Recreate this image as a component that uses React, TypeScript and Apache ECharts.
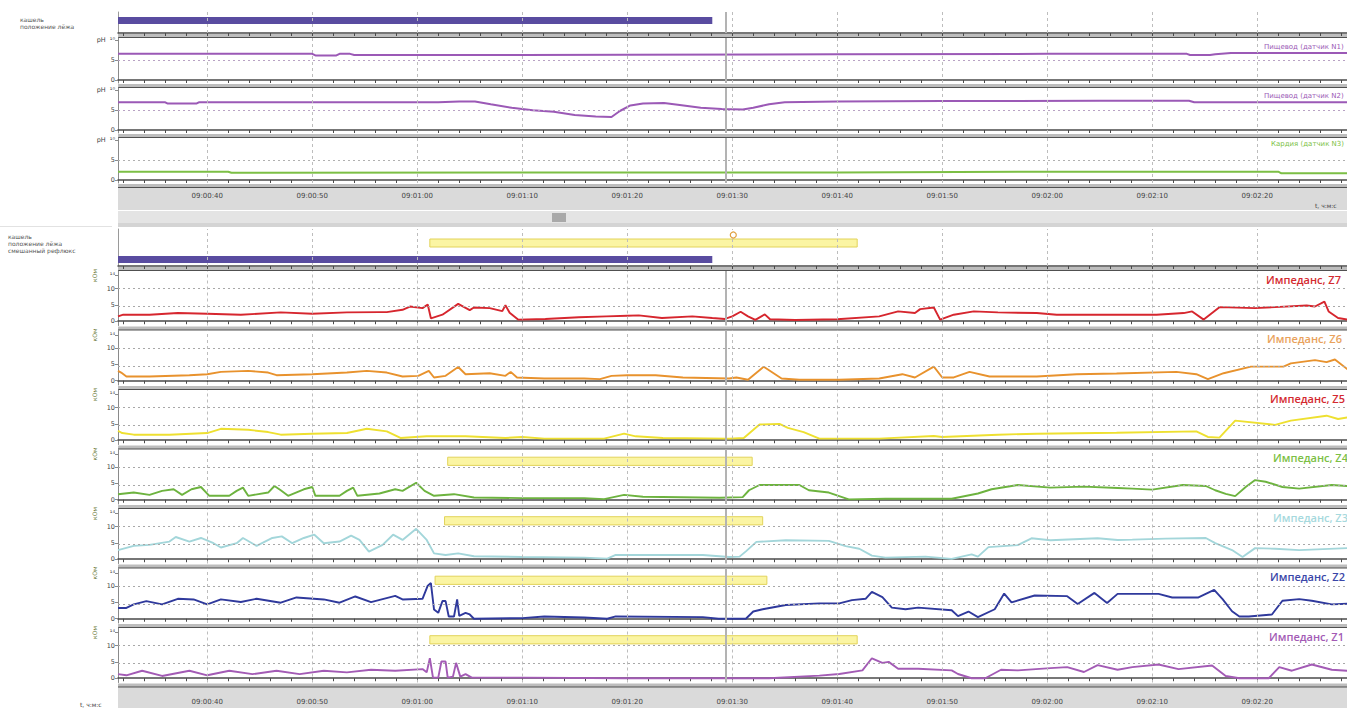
import React, { useEffect, useRef } from 'react';
import * as echarts from 'echarts';

// ---------- axes / ticks ----------
const T_MIN = 31.5;
const T_MAX = 148.55;
const CURSOR_T = 89.4;
const timeTickValues = [40, 50, 60, 70, 80, 90, 100, 110, 120, 130, 140];
const timeTickLabels = ['09:00:40', '09:00:50', '09:01:00', '09:01:10', '09:01:20', '09:01:30', '09:01:40', '09:01:50', '09:02:00', '09:02:10', '09:02:20'];
const minorTickValues: number[] = [];
for (let t = 32; t <= 148; t += 2) minorTickValues.push(t);
const zTickValues = [0, 5, 10, 14];
const phTickValues = [0, 5, 10];
const zDotted = [4.5, 10];
const phDotted = [5];

// ---------- pH series [seconds after 09:00:00, pH] ----------
const phEsoph1 = [[31.5, 6.6], [50, 6.6], [50.3, 6.2], [52.3, 6.2], [52.6, 6.6], [53.6, 6.6], [54, 6.3], [70, 6.3], [80, 6.4], [100, 6.5], [120, 6.6], [133.3, 6.6], [133.6, 6.3], [135.5, 6.3], [136, 6.5], [137.5, 6.8], [148.6, 6.8]];
const phEsoph2 = [[31.5, 7.0], [36, 7.0], [36.2, 6.7], [39, 6.7], [39.2, 7.0], [62, 7.0], [64, 7.2], [65.5, 7.2], [67, 6.5], [69, 5.6], [71, 5.0], [73, 4.6], [75, 3.8], [77, 3.4], [78.5, 3.3], [79.3, 4.8], [80.3, 6.2], [81.5, 6.7], [83.5, 6.8], [85, 6.3], [87, 5.6], [89, 5.3], [91, 5.2], [92, 5.6], [93.5, 6.5], [95, 7.0], [100, 7.2], [110, 7.3], [125, 7.4], [133.5, 7.4], [134, 7.0], [148.6, 7.0]];
const phCardia = [[31.5, 2.1], [42, 2.1], [42.3, 1.85], [100, 1.9], [120, 2.1], [142, 2.1], [142.3, 1.7], [148.6, 1.7]];

// ---------- impedance series [seconds, kOhm] ----------
const z7 = [[31.5, 1.5], [32, 2.0], [34.5, 2.0], [37.2, 2.5], [40, 2.3], [43.2, 2.0], [47, 2.7], [50, 2.3], [53.3, 2.7], [56.4, 2.8], [57.1, 2.8], [58.6, 3.5], [59.3, 4.5], [60.5, 4.0], [61, 5.1], [61.3, 0.9], [62.4, 2.0], [63.9, 5.3], [65, 3.4], [65.4, 4.2], [66.9, 4.0], [68.1, 3.1], [68.4, 4.9], [68.8, 2.6], [69.6, 0.5], [72.2, 0.7], [75.4, 1.2], [78, 1.5], [80, 1.7], [81.1, 1.8], [83.3, 1.0], [86.2, 1.5], [88.1, 1.0], [89.3, 0.7], [90, 1.5], [90.8, 2.9], [91.5, 1.5], [92.2, 0.4], [93.1, 2.1], [93.6, 0.6], [96, 0.4], [100, 0.6], [104, 1.5], [105.8, 3.0], [107.4, 2.5], [107.9, 3.7], [109.2, 4.2], [109.8, 0.5], [111.1, 2.0], [113, 3.0], [115.3, 2.7], [119, 2.5], [120.9, 2.0], [126.6, 2.0], [130.4, 2.0], [133, 2.5], [133.8, 3.0], [134.9, 0.5], [136.4, 4.3], [139.8, 4.0], [141.7, 4.3], [144.7, 4.8], [145.5, 4.5], [146.4, 6.0], [146.8, 3.0], [147.7, 1.0], [148.6, 0.5]];
const z6 = [[31.5, 3.0], [31.8, 2.5], [32.3, 1.3], [34.5, 1.3], [38.3, 1.7], [40, 2.0], [41.3, 2.7], [43.9, 3.0], [45.8, 2.5], [46.6, 1.7], [50, 2.0], [53.3, 2.5], [55.2, 3.0], [57.1, 2.5], [58.6, 1.3], [60.1, 1.5], [61.1, 3.0], [61.6, 1.0], [62.7, 1.5], [63.9, 4.2], [64.6, 2.0], [66.9, 2.3], [68.4, 1.5], [68.9, 2.7], [69.5, 1.0], [72.1, 0.7], [75.9, 0.7], [77.4, 0.5], [78.5, 1.5], [80, 1.7], [82.7, 1.7], [85.3, 1.0], [89.7, 0.7], [90.4, 1.0], [91.5, 0.3], [93, 4.3], [94.7, 0.7], [96.4, 0.3], [100.2, 0.3], [104, 0.7], [106.2, 2.0], [107.4, 1.0], [109.2, 4.3], [110, 1.0], [111.1, 1.0], [112.6, 2.7], [114.5, 1.3], [119, 1.3], [122.8, 2.0], [126.6, 2.2], [132.3, 2.7], [134.2, 2.0], [135.3, 0.5], [136.8, 2.3], [139.4, 4.3], [142.5, 4.3], [143.2, 5.3], [145.5, 6.3], [146.6, 5.7], [147.4, 6.5], [148.6, 3.5]];
const z5 = [[31.5, 2.9], [31.9, 2.2], [33, 1.7], [36.4, 1.7], [40, 2.2], [41.3, 3.5], [43.9, 3.2], [45.8, 2.5], [47, 1.7], [50, 2.0], [53.3, 2.2], [55.2, 3.5], [57.1, 2.7], [58.4, 0.7], [60.9, 1.2], [64.6, 1.2], [68.4, 0.7], [70, 1.0], [72.1, 0.5], [77.8, 0.5], [79.7, 2.0], [80.8, 1.2], [83.4, 0.7], [89.7, 0.5], [91.1, 0.7], [92.6, 4.8], [94.5, 5.0], [95.3, 3.8], [96.8, 2.5], [98.3, 0.5], [104, 0.5], [109.2, 1.3], [110, 1.0], [115.3, 1.7], [119, 2.0], [126.6, 2.3], [134.2, 2.7], [135.3, 1.0], [136.4, 0.8], [137.9, 6.0], [141.7, 4.7], [143.2, 6.0], [146.6, 7.5], [147.7, 6.5], [148.6, 7.0]];
const z4 = [[31.5, 1.7], [33, 2.2], [34.5, 1.5], [35.7, 2.7], [36.8, 3.2], [37.6, 1.5], [38.5, 3.2], [39.4, 3.9], [40.2, 1.2], [42.1, 1.2], [42.8, 2.7], [43.4, 3.7], [43.9, 1.2], [45.8, 2.2], [46.4, 4.2], [47, 2.9], [47.7, 1.2], [49.2, 3.2], [50, 3.9], [50.3, 1.2], [52.6, 1.2], [53.3, 2.7], [53.9, 3.7], [54.3, 1.2], [56.4, 1.9], [57.9, 3.2], [58.6, 2.7], [59.9, 5.2], [60.7, 2.7], [61.6, 1.2], [63.5, 1.7], [65.4, 0.7], [70, 0.5], [75.9, 0.5], [77.8, 0.2], [79.7, 1.5], [81.5, 0.9], [88.8, 0.6], [91, 0.8], [91.6, 2.9], [92.6, 4.5], [96.4, 4.5], [97.3, 2.9], [99.2, 2.2], [101.1, 0.1], [104.6, 0.3], [110.9, 0.3], [113.4, 1.9], [114.7, 3.2], [117.2, 4.5], [120.3, 3.7], [123.5, 4.0], [126.7, 3.6], [128.1, 3.4], [130, 3.1], [132.9, 4.5], [135.1, 4.2], [136, 2.9], [137, 1.8], [137.9, 1.1], [138.9, 3.9], [139.8, 6.0], [140.8, 5.5], [142.4, 3.9], [144, 3.4], [147.1, 4.5], [148.6, 4.2]];
const z3 = [[31.5, 2.8], [33, 4.1], [34.5, 4.4], [36.4, 5.4], [37, 6.8], [38.3, 5.4], [39.4, 6.5], [40.6, 4.9], [41.3, 3.6], [42.8, 4.9], [43.4, 6.5], [44.7, 4.1], [46.2, 6.5], [47.1, 7.0], [48.1, 4.9], [49.2, 6.5], [50.2, 7.5], [51.1, 4.9], [52.6, 5.4], [53.7, 7.2], [54.5, 5.9], [55.4, 2.3], [56.7, 4.4], [57.7, 7.5], [58.6, 5.9], [59.9, 9.3], [60.9, 5.9], [61.6, 1.8], [62.7, 1.3], [63.9, 1.8], [65.4, 0.9], [70, 0.7], [75.9, 0.5], [78.1, 0.2], [78.9, 1.3], [83.4, 1.3], [87.2, 1.3], [89.7, 0.7], [90.7, 0.8], [91.3, 2.4], [92.3, 5.3], [95.1, 5.8], [99.2, 5.6], [100.8, 4.0], [102.1, 3.2], [103.3, 1.1], [104.6, 0.5], [108.4, 0.8], [110.9, 0.1], [112.8, 1.5], [113.4, 0.8], [114.4, 3.7], [117.2, 4.3], [118.5, 6.4], [120.3, 5.8], [124.8, 6.4], [126.7, 5.9], [128.1, 6.0], [131.3, 6.3], [135.1, 6.5], [136, 4.9], [137.6, 2.8], [138.6, 0.7], [139.8, 3.4], [141.7, 3.2], [144, 2.8], [148.6, 3.4]];
const z2 = [[31.5, 3.3], [32.3, 3.3], [33, 4.4], [34.2, 5.4], [35.7, 4.4], [37.2, 6.1], [38.7, 5.9], [40, 4.4], [41.3, 5.9], [43.2, 5.1], [44.7, 6.1], [47, 4.9], [48.5, 6.5], [51.1, 5.9], [52.6, 4.9], [54.1, 6.8], [55.6, 5.1], [57.9, 7.0], [58.6, 5.9], [60.5, 6.1], [61, 10.1], [61.3, 10.9], [61.6, 2.8], [62, 1.8], [62.4, 5.4], [62.7, 5.4], [63, 0.7], [63.5, 0.7], [63.8, 5.9], [64, 0.9], [64.6, 1.8], [65, 1.3], [65.4, 0], [70, 0.2], [72.1, 0.7], [75.9, 0.4], [78.1, 0], [78.9, 0.7], [87.2, 0.5], [88.7, 0], [91.3, 0], [92, 2.2], [92.9, 2.9], [95.1, 4.2], [98.3, 4.7], [100.2, 4.7], [101.4, 5.7], [102.7, 6.1], [103.3, 8.2], [104.3, 6.6], [105.2, 3.4], [106.5, 2.9], [107.7, 3.4], [110.9, 2.6], [111.5, 0.8], [112.5, 2.2], [113.4, 0.5], [115, 2.9], [115.9, 7.7], [116.6, 5.0], [118.8, 7.1], [121.9, 6.9], [122.9, 4.5], [124.5, 7.9], [125.7, 4.8], [126.7, 7.6], [130.6, 7.6], [131.9, 6.5], [134.4, 6.5], [135.9, 8.8], [136.7, 6.0], [137.6, 2.3], [138.3, 0.7], [139.2, 0.7], [141.4, 1.3], [142.4, 5.5], [144, 6.0], [145.2, 5.5], [147.1, 4.4], [148.6, 4.6]];
const z1 = [[31.5, 1.25], [32.3, 0.9], [33.8, 2.3], [35.7, 0.7], [38.3, 2.3], [40, 0.9], [42.1, 2.3], [44.3, 1.25], [46.6, 2.3], [48.8, 1.25], [51.1, 2.3], [53.3, 1.8], [55.6, 2.6], [57.9, 2.3], [60.5, 2.8], [60.9, 1.8], [61.2, 6.1], [61.5, 0.2], [62, 0.2], [62.3, 5.1], [62.7, 5.1], [62.9, 0.2], [63.4, 0.5], [63.7, 4.7], [64.1, 0.5], [64.6, 1.25], [65.2, 0.2], [70, 0.2], [79.7, 0], [89.7, 0], [93.5, 0], [98.3, 0.8], [100.2, 1.3], [102.4, 2.4], [103.3, 6.1], [104.3, 4.7], [104.9, 5.0], [105.8, 2.9], [107.7, 2.9], [110.9, 2.4], [111.5, 1.3], [112.8, 0], [114.1, 0], [115.6, 2.6], [117.2, 2.4], [120.3, 3.1], [121.9, 3.4], [123.5, 1.9], [124.8, 4.0], [126.7, 2.6], [128.1, 3.4], [130.6, 4.2], [132.5, 2.8], [135.7, 3.9], [137, 0.7], [138.3, 0], [141.1, 0], [142.1, 3.4], [143.3, 2.3], [145.2, 4.2], [147.1, 2.6], [148.6, 2.3]];

// ---------- events [start s, end s] ----------
const lyingPosition = [31.5, 88.1];
const mixedReflux = [61.2, 101.9];
const refluxZ4 = [62.9, 91.9];
const refluxZ3 = [62.6, 92.9];
const refluxZ2 = [61.7, 93.3];
const refluxZ1 = [61.2, 101.9];
const coughMarks = [90.1];

const zNames = ['Импеданс, Z7', 'Импеданс, Z6', 'Импеданс, Z5', 'Импеданс, Z4', 'Импеданс, Z3', 'Импеданс, Z2', 'Импеданс, Z1'];
const phNames = ['Пищевод (датчик N1)', 'Пищевод (датчик N2)', 'Кардия (датчик N3)'];

export default function App() {
  const ref = useRef<HTMLDivElement>(null);
  useEffect(() => {
    if (!ref.current) return;
    const chart = echarts.init(ref.current, undefined, { renderer: 'svg' });
    const LEFT = 118;
    const WIDTH = 1229;
    const FONT = 'DejaVu Sans';

    const boxes: { top: number; h: number; kind: string }[] = [
      { top: 12, h: 21, kind: 'ev1' },
      { top: 38, h: 45, kind: 'ph' },
      { top: 88, h: 45, kind: 'ph' },
      { top: 138, h: 45, kind: 'ph' },
      { top: 229, h: 37, kind: 'ev2' },
    ];
    for (let i = 0; i < 7; i++) boxes.push({ top: 271 + 59.5 * i, h: 54.5, kind: 'z' });

    const grid = boxes.map((b) => ({ left: LEFT, width: WIDTH, top: b.top, height: b.h }));
    const xAxis = boxes.map((b, g) => {
      const showLabel = g === 3 || g === 11;
      return {
        type: 'value', gridIndex: g, min: T_MIN, max: T_MAX,
        axisLine: { show: true, lineStyle: { color: '#4a4a4a', width: 1.5 } },
        axisTick: { show: true, customValues: minorTickValues, length: 3, lineStyle: { color: '#4a4a4a' } },
        axisLabel: showLabel ? {
          show: true, customValues: timeTickValues,
          formatter: (v: number) => { const k = timeTickValues.indexOf(Math.round(v)); return k >= 0 ? timeTickLabels[k] : ''; },
          fontSize: 7, fontFamily: FONT, color: '#444', margin: g === 3 ? 9 : 16,
        } : { show: false },
        splitLine: { show: false },
      };
    });
    const yAxis = boxes.map((b, g) => {
      if (b.kind === 'ev1' || b.kind === 'ev2') {
        return {
          type: 'value', gridIndex: g, min: 0, max: b.h,
          axisLine: { show: true, lineStyle: { color: '#9a9a9a' } },
          axisTick: { show: false }, axisLabel: { show: false }, splitLine: { show: false },
        };
      }
      if (b.kind === 'ph') {
        return {
          type: 'value', gridIndex: g, min: -0.75, max: 10.6,
          axisLine: { show: true, lineStyle: { color: '#8a8a8a' } },
          axisTick: { show: true, customValues: phTickValues, length: 3, lineStyle: { color: '#8a8a8a' } },
          axisLabel: { show: true, customValues: phTickValues, formatter: (v: number) => (v === 10 ? 'pH  ¹⁰' : String(v)), fontSize: 6.5, fontFamily: FONT, color: '#444', margin: 3 },
          splitLine: { show: false },
        };
      }
      return {
        type: 'value', gridIndex: g, min: -1.3, max: 15.35,
        axisLine: { show: true, lineStyle: { color: '#8a8a8a' } },
        axisTick: { show: true, customValues: zTickValues, length: 3, lineStyle: { color: '#8a8a8a' } },
        axisLabel: { show: true, customValues: zTickValues, formatter: (v: number) => (v === 14 ? '¹⁴' : String(v)), fontSize: 6.5, fontFamily: FONT, color: '#444', margin: 3 },
        splitLine: { show: false },
      };
    });

    const markLines = (dotted: number[], cursor: boolean, dotColor: string) => ({
      silent: true, symbol: ['none', 'none'], label: { show: false }, animation: false,
      data: [
        ...timeTickValues.map((v) => ({ xAxis: v, lineStyle: { color: '#bdbdbd', type: [3, 3], width: 1 } })),
        ...dotted.map((v) => ({ yAxis: v, lineStyle: { color: dotColor, type: [2, 3], width: 1 } })),
        ...(cursor ? [{ xAxis: CURSOR_T, lineStyle: { color: '#b3b3b3', type: 'solid', width: 2 } }] : []),
      ],
    });
    const yellow = { color: '#fbf5a3', borderColor: '#e2d35a', borderWidth: 1 };
    const purple = { color: '#594ca0' };
    const reflux = (r: number[]) => ({
      silent: true,
      data: [[{ xAxis: r[0], yAxis: 10.5, itemStyle: yellow }, { xAxis: r[1], yAxis: 13.0 }]],
    });

    const series: any[] = [];
    series.push({
      type: 'line', xAxisIndex: 0, yAxisIndex: 0, data: [], silent: true,
      markArea: { silent: true, data: [[{ xAxis: lyingPosition[0], yAxis: 9, itemStyle: purple }, { xAxis: lyingPosition[1], yAxis: 16 }]] },
      markLine: markLines([], true, '#aaa'),
    });
    const phData = [phEsoph1, phEsoph2, phCardia];
    const phColors = ['#9b59b6', '#9b59b6', '#7cbf45'];
    phData.forEach((d, i) => {
      series.push({
        type: 'line', name: phNames[i], xAxisIndex: i + 1, yAxisIndex: i + 1, data: d, showSymbol: false, silent: true,
        lineStyle: { color: phColors[i], width: 2 }, itemStyle: { color: phColors[i] },
        markLine: markLines(phDotted, true, i < 2 ? '#b8a2c4' : '#b0b0b0'),
      });
    });
    series.push({
      type: 'line', xAxisIndex: 4, yAxisIndex: 4, data: [], silent: true,
      markArea: {
        silent: true,
        data: [
          [{ xAxis: mixedReflux[0], yAxis: 19, itemStyle: yellow }, { xAxis: mixedReflux[1], yAxis: 27 }],
          [{ xAxis: lyingPosition[0], yAxis: 3, itemStyle: purple }, { xAxis: lyingPosition[1], yAxis: 10 }],
        ],
      },
      markPoint: {
        silent: true, symbol: 'circle', symbolSize: 6, label: { show: false },
        itemStyle: { color: '#ffffff', borderColor: '#e0a040', borderWidth: 1.2 },
        data: coughMarks.map((t) => ({ coord: [t, 31] })),
      },
      markLine: markLines([], false, '#aaa'),
    });
    const zData = [z7, z6, z5, z4, z3, z2, z1];
    const zColors = ['#d6262e', '#e8922d', '#eee030', '#6db33f', '#a3d6da', '#2f399c', '#a35bb5'];
    const zReflux: (number[] | null)[] = [null, null, null, refluxZ4, refluxZ3, refluxZ2, refluxZ1];
    zData.forEach((d, i) => {
      const s: any = {
        type: 'line', name: zNames[i], xAxisIndex: 5 + i, yAxisIndex: 5 + i, data: d, showSymbol: false, silent: true,
        lineStyle: { color: zColors[i], width: 1.9 }, itemStyle: { color: zColors[i] },
        markLine: markLines(zDotted, true, '#a8a8a8'),
      };
      const r = zReflux[i];
      if (r) s.markArea = reflux(r);
      series.push(s);
    });

    const graphic: any[] = [];
    const sepBottoms = boxes.map((b) => b.top + b.h);
    graphic.push({ type: 'rect', z: -5, shape: { x: LEFT, y: 188, width: WIDTH, height: 22 }, style: { fill: '#dadada' } });
    graphic.push({ type: 'rect', z: -5, shape: { x: LEFT, y: 211, width: WIDTH, height: 12 }, style: { fill: '#e4e4e4' } });
    graphic.push({ type: 'rect', z: -4, shape: { x: 552, y: 213, width: 14, height: 9 }, style: { fill: '#a9a9a9' } });
    graphic.push({ type: 'rect', z: -5, shape: { x: LEFT, y: 223, width: WIDTH, height: 4 }, style: { fill: '#d4d4d4' } });
    graphic.push({ type: 'line', z: -5, shape: { x1: 0, y1: 226.5, x2: 112, y2: 226.5 }, style: { stroke: '#e2e2e2', lineWidth: 1 } });
    graphic.push({ type: 'rect', z: -5, shape: { x: LEFT, y: 687, width: WIDTH, height: 21 }, style: { fill: '#dadada' } });
    sepBottoms.forEach((y) => {
      graphic.push({ type: 'rect', z: -3, shape: { x: LEFT, y: y + 1, width: WIDTH, height: 3.5 }, style: { fill: '#bdbdbd' } });
      graphic.push({ type: 'line', z: -2, shape: { x1: LEFT, y1: y + 4.5, x2: LEFT + WIDTH, y2: y + 4.5 }, style: { stroke: '#505050', lineWidth: 1.2 } });
    });
    const txt = (x: number, y: number, text: string, fill: string, font: string, align = 'left') => ({
      type: 'text', z: 50,
      style: { x, y, text, fill, font, textAlign: align, textVerticalAlign: 'middle', align, verticalAlign: 'middle' },
    });
    const small = `6px "${FONT}"`;
    graphic.push(txt(20, 19, 'кашель', '#555', small));
    graphic.push(txt(20, 26, 'положение лёжа', '#555', small));
    graphic.push(txt(8, 236, 'кашель', '#555', small));
    graphic.push(txt(8, 243, 'положение лёжа', '#555', small));
    graphic.push(txt(8, 250, 'смешанный рефлюкс', '#555', small));
    graphic.push(txt(1315, 205, 't, ч:м:с', '#444', small));
    graphic.push(txt(80, 704, 't, ч:м:с', '#444', small));
    const phLabelPos = [[1264, 47], [1264, 96], [1271, 144]];
    phNames.forEach((n, i) => graphic.push(txt(phLabelPos[i][0], phLabelPos[i][1], n, phColors[i], `7px "${FONT}"`)));
    const zLabelX = [1266, 1267, 1270, 1273, 1273, 1270, 1269];
    const zLabelColors = ['#d42a30', '#e9a25c', '#d42a30', '#7cbf45', '#a6d9dd', '#3a46a8', '#a35bb5'];
    zNames.forEach((n, i) => {
      graphic.push(txt(zLabelX[i], 279 + 59.5 * i, n, zLabelColors[i], `600 11px "Open Sans"`));
      graphic.push({
        type: 'text', z: 50, x: 94, y: 269 + 59.5 * i, rotation: Math.PI / 2,
        style: { x: 0, y: 0, text: 'кОм', fill: '#6b7a3a', font: `6px "${FONT}"`, textAlign: 'right', align: 'right', textVerticalAlign: 'middle', verticalAlign: 'middle' },
      });
    });

    chart.setOption({
      animation: false,
      backgroundColor: '#ffffff',
      grid, xAxis, yAxis, series, graphic,
    });
    return () => chart.dispose();
  }, []);
  return <div ref={ref} style={{ position: 'absolute', left: 0, top: 0, width: 1347, height: 708 }} />;
}
